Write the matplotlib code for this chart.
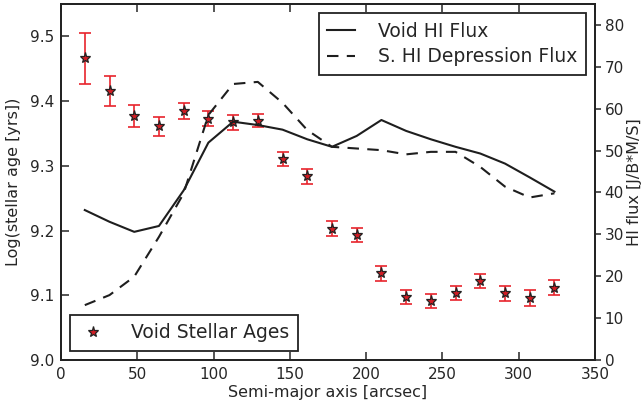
import matplotlib
matplotlib.use("Agg")
import matplotlib.pyplot as plt

# semi-major axis positions [arcsec]
radius = [15.6, 31.8, 48.0, 64.2, 80.4, 96.6, 112.8, 129.0, 145.2, 161.4,
          177.6, 193.8, 210.0, 226.2, 242.4, 258.6, 274.8, 291.0, 307.2, 323.4]

# log stellar ages with errors
age = [9.466, 9.415, 9.377, 9.361, 9.385, 9.373, 9.367, 9.370, 9.310, 9.284,
       9.203, 9.193, 9.134, 9.097, 9.091, 9.103, 9.122, 9.103, 9.096, 9.112]
age_err = [0.039, 0.023, 0.017, 0.015, 0.012, 0.011, 0.011, 0.0105, 0.011, 0.0115,
           0.011, 0.011, 0.0115, 0.011, 0.011, 0.011, 0.011, 0.012, 0.012, 0.0115]

# HI flux profiles
void_flux = [35.8, 33.0, 30.6, 32.0, 40.5, 51.9, 56.9, 56.1, 55.0, 52.7,
             50.9, 53.5, 57.3, 54.7, 52.7, 50.9, 49.3, 46.9, 43.6, 40.2]
dep_flux = [13.1, 15.5, 19.9, 29.4, 39.8, 58.5, 65.9, 66.4, 61.4, 54.9,
            50.9, 50.5, 50.1, 49.1, 49.7, 49.7, 46.1, 41.4, 38.8, 39.8]

txt = "#262626"
plt.rcParams["font.family"] = "DejaVu Sans"
plt.rcParams["text.color"] = txt
plt.rcParams["axes.labelcolor"] = txt
plt.rcParams["xtick.color"] = txt
plt.rcParams["ytick.color"] = txt

fig = plt.figure(figsize=(6.44, 4.07), dpi=100)
ax = fig.add_axes([61 / 644, 1 - 360 / 407, 534 / 644, 356 / 407])

ax.errorbar(radius, age, yerr=age_err, fmt="none", ecolor="#e8242c",
            elinewidth=1.2, capsize=4.5, capthick=1.2)
ax.plot(radius, age, "*", mfc="#d01c24", mec="#222222", mew=0.9, ms=8,
        label="Void Stellar Ages")
ax.set_xlim(0, 350)
ax.set_ylim(9.0, 9.55)
ax.set_yticks([9.0, 9.1, 9.2, 9.3, 9.4, 9.5])
ax.set_xlabel("Semi-major axis [arcsec]", fontsize=11.5, labelpad=2)
ax.set_ylabel("Log(stellar age [yrs])", fontsize=11.5, labelpad=6)
ax.tick_params(direction="in", length=6, width=1.1, labelsize=11, top=True, right=False, pad=5)
for s in ax.spines.values():
    s.set_linewidth(1.3)
    s.set_color("#222222")

ax2 = ax.twinx()
ax2.plot(radius, void_flux, "-", color="#1e1e1e", lw=1.5, label="Void HI Flux")
ax2.plot(radius, dep_flux, "--", color="#1e1e1e", lw=1.5, dashes=(5.5, 4),
         label="S. HI Depression Flux")
ax2.set_ylim(0, 85)
ax2.set_yticks([0, 10, 20, 30, 40, 50, 60, 70, 80])
ax2.set_ylabel("HI flux [J/B*M/S]", fontsize=11.5, labelpad=2)
ax2.tick_params(direction="out", length=4, width=1.1, labelsize=11, pad=3)
for s in ax2.spines.values():
    s.set_linewidth(1.3)
    s.set_color("#222222")

leg2 = ax2.legend(loc="upper right", fontsize=13.5, fancybox=False, frameon=True,
                  edgecolor="#222222", framealpha=1, handlelength=1.5,
                  handletextpad=1.2, borderaxespad=0.5, labelspacing=0.35,
                  borderpad=0.45)
leg2.get_frame().set_linewidth(1.3)

leg1 = ax.legend(loc="lower left", fontsize=13.5, fancybox=False, frameon=True,
                 edgecolor="#222222", framealpha=1, handlelength=1.5,
                 handletextpad=1.3, borderaxespad=0.5, numpoints=1,
                 borderpad=0.45)
leg1.get_frame().set_linewidth(1.3)

fig.savefig("out.png", dpi=100)
